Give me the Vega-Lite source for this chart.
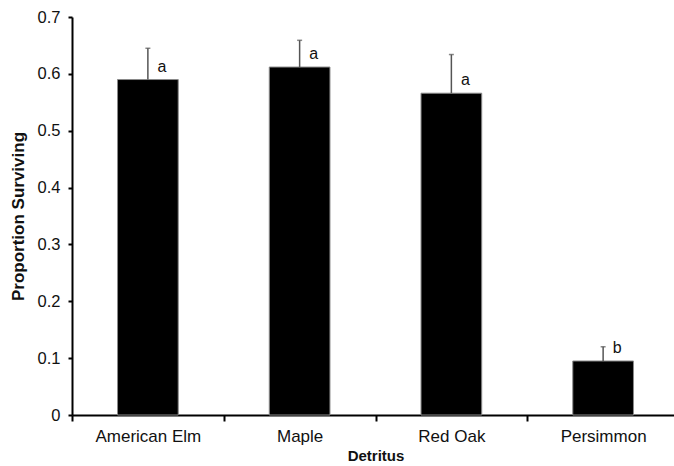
{
  "$schema": "https://vega.github.io/schema/vega-lite/v6.json",
  "autosize": "none",
  "width": 607,
  "height": 398,
  "padding": {"left": 72, "top": 17, "right": 0, "bottom": 51},
  "background": "white",
  "config": {
    "view": {"stroke": null},
    "font": "Liberation Sans",
    "axis": {"grid": false, "domainColor": "black", "domainWidth": 2, "tickColor": "black", "tickWidth": 2, "labelColor": "#111", "titleColor": "#111", "labelFont": "Liberation Sans", "titleFont": "Liberation Sans"}
  },
  "data": {"values": [
    {"Detritus": "American Elm", "mean": 0.59, "upper": 0.645, "letter": "a"},
    {"Detritus": "Maple", "mean": 0.612, "upper": 0.659, "letter": "a"},
    {"Detritus": "Red Oak", "mean": 0.566, "upper": 0.634, "letter": "a"},
    {"Detritus": "Persimmon", "mean": 0.095, "upper": 0.12, "letter": "b"}
  ]},
  "encoding": {
    "x": {"field": "Detritus", "type": "nominal", "sort": null,
      "scale": {"paddingInner": 0, "paddingOuter": 0},
      "axis": {"title": "Detritus", "labelAngle": 0, "labelFontSize": 17, "titleFontSize": 15, "titleFontWeight": "bold", "tickBand": "extent", "tickSize": 6, "labelPadding": 7, "titlePadding": 4}
    }
  },
  "layer": [
    {
      "mark": {"type": "bar", "color": "black", "stroke": "#8a8a8a", "strokeWidth": 1, "width": {"band": 0.4}},
      "encoding": {
        "y": {"field": "mean", "type": "quantitative",
          "scale": {"domain": [0, 0.7], "nice": false},
          "axis": {"title": "Proportion Surviving", "values": [0, 0.1, 0.2, 0.3, 0.4, 0.5, 0.6, 0.7], "format": "~g", "labelFontSize": 16.5, "titleFontSize": 17, "titleFontWeight": "bold", "tickSize": 4, "labelPadding": 8, "titlePadding": 10}
        }
      }
    },
    {
      "mark": {"type": "rule", "color": "#555", "strokeWidth": 1.5},
      "encoding": {"y": {"field": "mean", "type": "quantitative"}, "y2": {"field": "upper"}}
    },
    {
      "mark": {"type": "tick", "color": "#555", "size": 5, "thickness": 1.5},
      "encoding": {"y": {"field": "upper", "type": "quantitative"}}
    },
    {
      "mark": {"type": "text", "fontSize": 16, "dx": 14, "dy": -8, "baseline": "alphabetic", "color": "#111"},
      "encoding": {"y": {"field": "mean", "type": "quantitative"}, "text": {"field": "letter"}}
    }
  ]
}
